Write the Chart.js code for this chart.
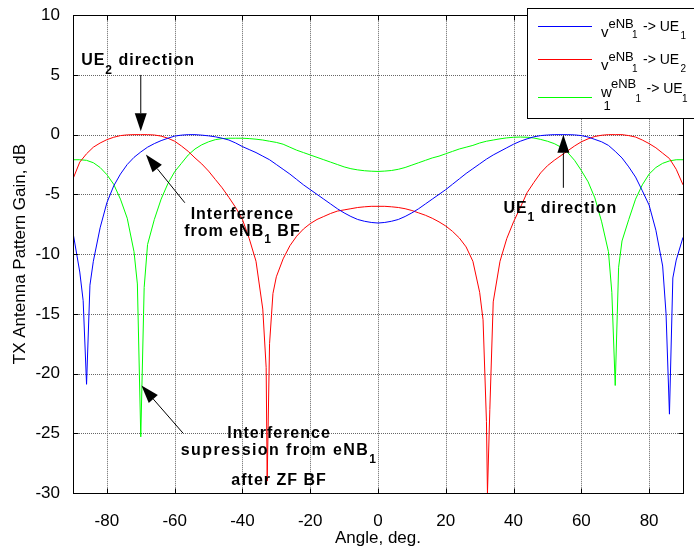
<!DOCTYPE html>
<html>
<head>
<meta charset="utf-8">
<script src="https://cdn.jsdelivr.net/npm/chart.js@4.4.1/dist/chart.umd.min.js"></script>
<style>
  html, body { margin: 0; padding: 0; background: #fff; }
  canvas { display: block; }
</style>
</head>
<body>
<canvas id="gainChart" width="694" height="550"></canvas>
<script>
// angle grid, deg
const angles = [
  -90, -88, -86, -84, -82, -80, -78, -76, -74, -72,
  -70, -68, -66, -64, -62, -60, -58, -56, -54, -52,
  -50, -48, -46, -44, -42, -40, -38, -36, -34, -32,
  -30, -28, -26, -24, -22, -20, -18, -16, -14, -12,
  -10, -8, -6, -4, -2, 0, 2, 4, 6, 8,
  10, 12, 14, 16, 18, 20, 22, 24, 26, 28,
  30, 32, 34, 36, 38, 40, 42, 44, 46, 48,
  50, 52, 54, 56, 58, 60, 62, 64, 66, 68,
  70, 72, 74, 76, 78, 80, 82, 84, 86, 88,
  90
];

// v eNB1 -> UE1 (dB)
const blueGain = [
  -8.2, -11.5, -20.9, -10.6, -7.8, -5.7, -4.3, -3.3, -2.5, -1.9,
  -1.45, -1.05, -0.75, -0.5, -0.3, -0.12, -0.04, 0, 0, -0.04,
  -0.1, -0.18, -0.3, -0.45, -0.7, -1.0, -1.25, -1.5, -1.8, -2.1,
  -2.5, -2.9, -3.3, -3.75, -4.2, -4.6, -5.0, -5.4, -5.8, -6.2,
  -6.55, -6.85, -7.1, -7.25, -7.35, -7.4, -7.35, -7.25, -7.1, -6.85,
  -6.55, -6.2, -5.8, -5.4, -5.0, -4.6, -4.15, -3.7, -3.25, -2.85,
  -2.45, -2.05, -1.7, -1.4, -1.1, -0.8, -0.55, -0.35, -0.18, -0.08,
  -0.03, 0, 0, 0, -0.02, -0.08, -0.2, -0.4, -0.6, -0.9,
  -1.4, -1.95, -2.7, -3.55, -4.7, -5.9, -8.0, -11.0, -23.4, -10.5,
  -8.6
];
const blueNull = [[-87, -13.9], [-85, -12.6], [85, -15.0], [87, -12.0]];

// v eNB1 -> UE2 (dB)
const redGain = [
  -3.7, -2.3, -1.6, -1.05, -0.7, -0.42, -0.22, -0.08, -0.02, 0,
  0, 0, -0.03, -0.12, -0.3, -0.55, -0.95, -1.4, -1.95, -2.45,
  -3.05, -3.75, -4.45, -5.25, -6.1, -7.1, -8.7, -10.6, -14.6, -17.5,
  -11.9, -10.4, -9.3, -8.5, -7.9, -7.45, -7.1, -6.85, -6.6, -6.4,
  -6.3, -6.2, -6.1, -6.04, -6.0, -6.0, -6.0, -6.04, -6.1, -6.2,
  -6.35, -6.55, -6.75, -7.0, -7.3, -7.65, -8.1, -8.65, -9.4, -10.6,
  -13.2, -24.0, -14.0, -10.6, -8.7, -7.3, -6.1, -4.85, -4.0, -3.2,
  -2.6, -2.15, -1.75, -1.35, -0.95, -0.6, -0.35, -0.15, -0.05, 0,
  0, 0, -0.08, -0.2, -0.45, -0.75, -1.1, -1.55, -2.0, -2.9,
  -4.2
];
const redNull = [[-33, -19.5], [-32.7, -29], [-31, -13.3], [31, -15.5], [32.3, -30], [33, -23]];

// w1 eNB1 -> UE1 (dB)
const greenGain = [
  -2.1, -2.1, -2.15, -2.35, -2.75, -3.35, -4.15, -5.4, -7.0, -9.8,
  -25.3, -9.2, -7.1, -5.4, -4.1, -3.1, -2.4, -1.7, -1.2, -0.85,
  -0.6, -0.42, -0.33, -0.3, -0.3, -0.3, -0.33, -0.38, -0.45, -0.55,
  -0.65, -0.8, -1.05, -1.3, -1.5, -1.7, -1.9, -2.1, -2.3, -2.5,
  -2.7, -2.85, -2.95, -3.02, -3.06, -3.08, -3.05, -3.0, -2.9, -2.75,
  -2.55, -2.35, -2.15, -1.95, -1.8, -1.6, -1.4, -1.2, -1.05, -0.9,
  -0.7, -0.55, -0.45, -0.35, -0.27, -0.22, -0.2, -0.22, -0.28, -0.4,
  -0.55, -0.75, -1.05, -1.5, -2.15, -3.0, -3.95, -5.3, -7.3, -9.8,
  -21, -8.9, -7.1, -5.4, -4.2, -3.3, -2.75, -2.4, -2.2, -2.1,
  -2.1
];
const greenNull = [[-71, -12.5], [-69, -12.8], [69, -13.2], [71, -11.1]];

const xTicks = [-80, -60, -40, -20, 0, 20, 40, 60, 80];
const yTicks = [-30, -25, -20, -15, -10, -5, 0, 5, 10];

const FAM = '"Liberation Sans", Arial, Helvetica, sans-serif';
const axisFont = { family: FAM, size: 17 };

function series(vals, extra) {
  return angles.map((a, i) => ({ x: a, y: vals[i] }))
    .concat(extra.map(p => ({ x: p[0], y: p[1] })))
    .sort((p, q) => p.x - q.x);
}

function rich(ctx, parts, x, y, align) {
  let w = 0;
  parts.forEach(p => { ctx.font = p[1]; w += ctx.measureText(p[0]).width; });
  if (align === 'center') x -= w / 2;
  parts.forEach(p => {
    ctx.font = p[1];
    ctx.fillText(p[0], x, y + (p[2] || 0));
    x += ctx.measureText(p[0]).width;
  });
}

function arrow(ctx, x0, y0, x1, y1) {
  const t = Math.atan2(y1 - y0, x1 - x0), L = 18, W = 6;
  const bx = x1 - L * Math.cos(t), by = y1 - L * Math.sin(t);
  ctx.beginPath(); ctx.moveTo(x0, y0); ctx.lineTo(bx, by); ctx.stroke();
  ctx.beginPath();
  ctx.moveTo(x1, y1);
  ctx.lineTo(bx + W * Math.sin(t), by - W * Math.cos(t));
  ctx.lineTo(bx - W * Math.sin(t), by + W * Math.cos(t));
  ctx.closePath(); ctx.fill();
}

const B = 'bold 16px ' + FAM, BS = 'bold 12px ' + FAM;

const frame = {
  id: 'frame',
  beforeDatasetsDraw(chart) {
    const { ctx, chartArea: a, scales: { x, y } } = chart;
    ctx.save();
    ctx.strokeStyle = '#666';
    ctx.lineWidth = 1;
    ctx.setLineDash([1, 1]);
    xTicks.forEach(v => {
      const px = Math.round(x.getPixelForValue(v)) + 0.5;
      ctx.beginPath(); ctx.moveTo(px, a.top); ctx.lineTo(px, a.bottom); ctx.stroke();
    });
    yTicks.slice(1, -1).forEach(v => {
      const py = Math.round(y.getPixelForValue(v)) + 0.5;
      ctx.beginPath(); ctx.moveTo(a.left, py); ctx.lineTo(a.right, py); ctx.stroke();
    });
    ctx.restore();
  },
  afterDatasetsDraw(chart) {
    const { ctx, chartArea: a, scales: { x, y } } = chart;
    const L = Math.round(a.left) + 0.5, R = Math.round(a.right) + 0.5;
    const T = Math.round(a.top) + 0.5, Bt = Math.round(a.bottom) + 0.5;
    ctx.save();
    ctx.strokeStyle = '#000'; ctx.fillStyle = '#000'; ctx.lineWidth = 1;
    ctx.strokeRect(L, T, R - L, Bt - T);
    ctx.beginPath();
    xTicks.forEach(v => {
      const px = Math.round(x.getPixelForValue(v)) + 0.5;
      ctx.moveTo(px, Bt); ctx.lineTo(px, Bt - 5);
      ctx.moveTo(px, T); ctx.lineTo(px, T + 5);
    });
    yTicks.forEach(v => {
      const py = Math.round(y.getPixelForValue(v)) + 0.5;
      ctx.moveTo(L, py); ctx.lineTo(L + 5, py);
      ctx.moveTo(R, py); ctx.lineTo(R - 5, py);
    });
    ctx.stroke();

    // annotations
    const X = v => x.getPixelForValue(v), Y = v => y.getPixelForValue(v);
    arrow(ctx, X(-70), Y(5.0), X(-70), Y(0.28));
    arrow(ctx, X(-57.0), Y(-5.7), X(-68.5), Y(-1.67));
    arrow(ctx, X(54.7), Y(-4.45), X(54.7), Y(0));
    arrow(ctx, X(-57.5), Y(-25), X(-69.8), Y(-21));

    ctx.letterSpacing = '1px';
    ctx.textBaseline = 'alphabetic';
    rich(ctx, [['UE', B], ['2', BS, 8.7], [' direction', B]], X(-87.6), Y(5.83));
    rich(ctx, [['Interference', B]], X(-40), Y(-7.1), 'center');
    rich(ctx, [['from eNB', B], ['1', BS, 6.7], [' BF', B]], X(-40), Y(-8.47), 'center');
    rich(ctx, [['UE', B], ['1', BS, 8.3], [' direction', B]], X(37.0), Y(-6.53));
    rich(ctx, [['Interference', B]], X(-29.2), Y(-25.4), 'center');
    ctx.letterSpacing = '1.4px';
    rich(ctx, [['supression from eNB', B], ['1', BS, 8]], X(-29.2), Y(-26.8), 'center');
    ctx.letterSpacing = '1px';
    rich(ctx, [['after ZF BF', B]], X(-29.2), Y(-29.3), 'center');
    ctx.letterSpacing = '0px';

    // legend box
    const lx = 527, ly = 8;
    ctx.fillStyle = '#fff';
    ctx.fillRect(lx, ly, 180, 110);
    ctx.strokeStyle = '#000';
    ctx.strokeRect(lx + 0.5, ly + 0.5, 180, 110);
    const M = '14px ' + FAM, S = '13px ' + FAM, SS = '10px ' + FAM, V = '15px ' + FAM;
    const tx = 601;
    const rows = [
      { y: 25.7, c: '#0000ff', sub: '1' },
      { y: 59.3, c: '#ff0000', sub: '2' },
      { y: 96.7, c: '#00ff00', sub: '1' }
    ];
    rows.forEach((r, i) => {
      ctx.strokeStyle = r.c;
      ctx.beginPath(); ctx.moveTo(538, Math.round(r.y) + 0.5); ctx.lineTo(592, Math.round(r.y) + 0.5); ctx.stroke();
      ctx.fillStyle = '#000';
      if (i < 2) {
        ctx.font = V; ctx.fillText('v', tx, r.y + 10.9);
        ctx.font = S; ctx.fillText('eNB', tx + 7.5, r.y + 1.8);
        ctx.font = SS; ctx.fillText('1', tx + 31, r.y + 12.2);
        ctx.font = M; ctx.fillText('-> UE', tx + 42, r.y + 4.9);
        ctx.font = SS; ctx.fillText(r.sub, tx + 79.5, r.y + 12.9);
      } else {
        ctx.font = V; ctx.fillText('w', tx, r.y);
        ctx.font = S; ctx.fillText('1', tx + 2.5, r.y + 13.3);
        ctx.font = S; ctx.fillText('eNB', tx + 10, r.y - 8.7);
        ctx.font = SS; ctx.fillText('1', tx + 34.5, r.y + 5);
        ctx.font = M; ctx.fillText('-> UE', tx + 45.5, r.y - 3.7);
        ctx.font = SS; ctx.fillText(r.sub, tx + 81, r.y + 5);
      }
    });
    ctx.restore();
  }
};

const ctx = document.getElementById('gainChart').getContext('2d');

const gainChart = new Chart(ctx, {
  type: 'line',
  data: {
    datasets: [
      { label: 'v eNB1 -> UE1', data: series(blueGain, blueNull), borderColor: '#0000ff' },
      { label: 'v eNB1 -> UE2', data: series(redGain, redNull), borderColor: '#ff0000' },
      { label: 'w1 eNB1 -> UE1', data: series(greenGain, greenNull), borderColor: '#00ff00' }
    ]
  },
  options: {
    responsive: false,
    animation: false,
    layout: { padding: { left: 0, right: 11, top: 13, bottom: 0 } },
    elements: {
      point: { radius: 0 },
      line: { borderWidth: 1, tension: 0, fill: false }
    },
    plugins: { legend: { display: false }, tooltip: { enabled: false } },
    scales: {
      x: {
        type: 'linear', min: -90, max: 90,
        grid: { display: false }, border: { display: false },
        afterBuildTicks: s => { s.ticks = xTicks.map(v => ({ value: v })); },
        afterFit: s => { s.height = 57; },
        ticks: { font: axisFont, color: '#000', padding: 10, maxRotation: 0, autoSkip: false, callback: v => String(v) },
        title: { display: true, text: 'Angle, deg.', font: axisFont, color: '#000', padding: { top: 0, bottom: 1 } }
      },
      y: {
        min: -30, max: 10,
        grid: { display: false }, border: { display: false },
        afterBuildTicks: s => { s.ticks = yTicks.map(v => ({ value: v })); },
        afterFit: s => { s.width = 73; },
        ticks: { font: axisFont, color: '#000', padding: 5, autoSkip: false, callback: v => String(v) },
        title: { display: true, text: 'TX Antenna Pattern Gain, dB', font: axisFont, color: '#000', padding: { top: 10, bottom: 0 } }
      }
    }
  },
  plugins: [frame]
});
</script>
</body>
</html>
